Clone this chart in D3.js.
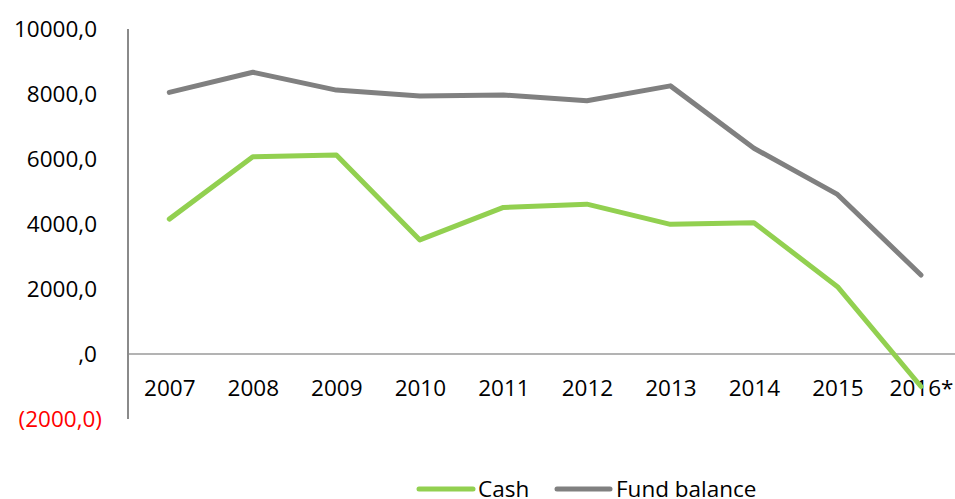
<!DOCTYPE html>
<html>
<head>
<meta charset="utf-8">
<script src="https://cdn.jsdelivr.net/npm/d3@7"></script>
<style>
  html, body { margin: 0; padding: 0; background: #fff; }
  svg { display: block; }
  text { font-family: "Open Sans", sans-serif; }
</style>
</head>
<body>
<svg id="chart" width="955" height="499"></svg>
<script>
const categories = ["2007","2008","2009","2010","2011","2012","2013","2014","2015","2016*"];
const cashValues = [4150, 6070, 6120, 3510, 4510, 4610, 3990, 4040, 2070, -1000];
const fundValues = [8050, 8670, 8120, 7940, 7970, 7790, 8250, 6330, 4910, 2430];
const yTicks = [-2000, 0, 2000, 4000, 6000, 8000, 10000];
const seriesNames = ["Cash", "Fund balance"];
const seriesColors = ["#92D050", "#808080"];

const svg = d3.select("#chart");
const W = 955, H = 499;
const plotLeft = 128, plotTop = 29, plotBottom = 419;

const y = d3.scaleLinear().domain([-2000, 10000]).range([plotBottom, plotTop]);
const x = d3.scalePoint().domain(categories).range([169.3, 921]);

const fmt = v => {
  const s = Math.abs(v) === 0 ? ",0" : d3.format(".1f")(Math.abs(v)).replace(".", ",");
  return v < 0 ? "(" + s + ")" : s;
};

// y axis labels
const yAxis = d3.axisLeft(y).tickValues(yTicks).tickFormat(fmt).tickSize(0).tickPadding(0);
const gy = svg.append("g").attr("transform", "translate(97,0)").call(yAxis);
gy.select(".domain").remove();
gy.selectAll("text")
  .attr("font-size", 22.5)
  .attr("font-family", "Open Sans, sans-serif")
  .attr("fill", d => d < 0 ? "#ff0000" : "#000")
  .attr("dx", d => d < 0 ? 5 : 0);

// axis lines
svg.append("line")
  .attr("x1", plotLeft).attr("x2", W)
  .attr("y1", y(0)).attr("y2", y(0))
  .attr("stroke", "#9a9a9a").attr("stroke-width", 1.5);
svg.append("line")
  .attr("x1", plotLeft).attr("x2", plotLeft)
  .attr("y1", plotTop).attr("y2", plotBottom)
  .attr("stroke", "#8a8a8a").attr("stroke-width", 2);

// x axis labels
const xAxis = d3.axisBottom(x).tickSize(0).tickPadding(0);
const gx = svg.append("g").attr("transform", "translate(0,388)").call(xAxis);
gx.select(".domain").remove();
gx.selectAll("text")
  .attr("font-size", 22.5)
  .attr("font-family", "Open Sans, sans-serif")
  .attr("fill", "#000")
  .attr("dy", "0.35em");

// lines
const line = d3.line().x((d, i) => x(categories[i])).y(d => y(d));
[cashValues, fundValues].forEach((vals, k) => {
  svg.append("path")
    .datum(vals)
    .attr("d", line)
    .attr("fill", "none")
    .attr("stroke", seriesColors[k])
    .attr("stroke-width", 5)
    .attr("stroke-linejoin", "round")
    .attr("stroke-linecap", "round");
});

// legend
const legendItems = [
  { name: seriesNames[0], color: seriesColors[0], x1: 419, x2: 473, tx: 478 },
  { name: seriesNames[1], color: seriesColors[1], x1: 557, x2: 610, tx: 616 }
];
const lg = svg.append("g");
legendItems.forEach(it => {
  lg.append("line")
    .attr("x1", it.x1).attr("x2", it.x2)
    .attr("y1", 489).attr("y2", 489)
    .attr("stroke", it.color).attr("stroke-width", 5)
    .attr("stroke-linecap", "round");
  lg.append("text")
    .attr("x", it.tx).attr("y", 489)
    .attr("dy", "0.35em")
    .attr("font-size", 22.5)
    .attr("fill", "#000")
    .text(it.name);
});
</script>
</body>
</html>
